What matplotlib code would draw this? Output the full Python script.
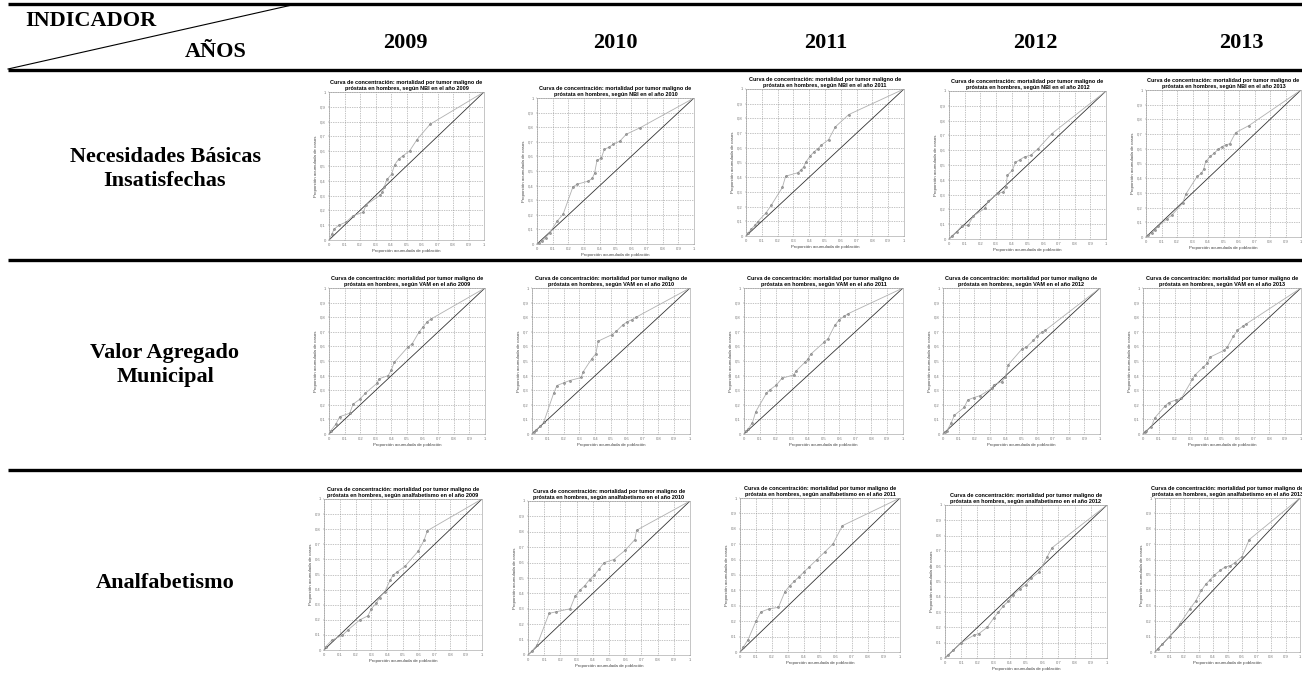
"""Table of concentration curves: prostate cancer mortality by indicator and year."""

import matplotlib
matplotlib.use("Agg")
import matplotlib.pyplot as plt

W, H = 1302, 673

YEARS = ["2009", "2010", "2011", "2012", "2013"]
INDICATORS = ["Necesidades Básicas\nInsatisfechas", "Valor Agregado\nMunicipal",
              "Analfabetismo"]
TITLE_KEYS = ["NBI", "VAM", "analfabetismo"]

# cumulative population share (x) vs cumulative share of cases (y)
NBI_2009_X = [0, 0.019, 0.032, 0.062, 0.11, 0.155, 0.22, 0.24, 0.33, 0.344, 0.355,
              0.374, 0.404, 0.424, 0.449, 0.477, 0.52, 0.568, 0.652, 1]
NBI_2009_Y = [0, 0.04, 0.072, 0.099, 0.121, 0.164, 0.187, 0.238, 0.303, 0.321, 0.355,
              0.409, 0.445, 0.51, 0.546, 0.569, 0.602, 0.679, 0.782, 1]
NBI_2010_X = [0, 0.013, 0.034, 0.055, 0.081, 0.13, 0.166, 0.229, 0.257, 0.325, 0.352,
              0.367, 0.382, 0.41, 0.429, 0.459, 0.484, 0.527, 0.569, 0.658, 1]
NBI_2010_Y = [0, 0.009, 0.018, 0.043, 0.077, 0.159, 0.203, 0.392, 0.41, 0.43, 0.449,
              0.487, 0.572, 0.59, 0.649, 0.663, 0.683, 0.704, 0.752, 0.797, 1]
NBI_2011_X = [0, 0.015, 0.032, 0.055, 0.074, 0.127, 0.16, 0.23, 0.251, 0.327, 0.348,
              0.365, 0.38, 0.407, 0.428, 0.454, 0.477, 0.523, 0.565, 0.65, 1]
NBI_2011_Y = [0, 0.023, 0.045, 0.072, 0.097, 0.158, 0.21, 0.33, 0.407, 0.43, 0.45,
              0.47, 0.505, 0.545, 0.57, 0.593, 0.618, 0.656, 0.742, 0.826, 1]
NBI_2012_X = [0, 0.021, 0.049, 0.081, 0.123, 0.155, 0.228, 0.251, 0.315, 0.347, 0.362,
              0.372, 0.404, 0.423, 0.453, 0.481, 0.521, 0.566, 0.655, 1]
NBI_2012_Y = [0, 0.022, 0.049, 0.088, 0.094, 0.155, 0.207, 0.258, 0.308, 0.319, 0.348,
              0.431, 0.465, 0.517, 0.537, 0.555, 0.566, 0.609, 0.712, 1]
NBI_2013_X = [0, 0.015, 0.036, 0.058, 0.079, 0.133, 0.165, 0.236, 0.257, 0.33, 0.358,
              0.373, 0.385, 0.415, 0.439, 0.467, 0.49, 0.514, 0.54, 0.578, 0.664, 1]
NBI_2013_Y = [0, 0.011, 0.027, 0.05, 0.072, 0.122, 0.147, 0.229, 0.292, 0.412, 0.434,
              0.464, 0.514, 0.548, 0.57, 0.597, 0.615, 0.627, 0.634, 0.71, 0.758, 1]

VAM_2009_X = [0, 0.011, 0.043, 0.069, 0.133, 0.154, 0.197, 0.233, 0.308, 0.321, 0.379,
              0.4, 0.418, 0.505, 0.533, 0.576, 0.6, 0.63, 0.653, 1]
VAM_2009_Y = [0, 0.021, 0.066, 0.119, 0.142, 0.204, 0.238, 0.279, 0.348, 0.378, 0.4,
              0.439, 0.49, 0.595, 0.618, 0.696, 0.73, 0.769, 0.787, 1]
VAM_2010_X = [0, 0.011, 0.025, 0.053, 0.074, 0.137, 0.158, 0.204, 0.238, 0.312, 0.322,
              0.379, 0.404, 0.419, 0.505, 0.533, 0.575, 0.6, 0.632, 0.657, 1]
VAM_2010_Y = [0, 0.016, 0.027, 0.055, 0.08, 0.279, 0.332, 0.352, 0.366, 0.387, 0.423,
              0.517, 0.549, 0.636, 0.68, 0.703, 0.748, 0.767, 0.783, 0.799, 1]
VAM_2011_X = [0, 0.011, 0.025, 0.053, 0.074, 0.141, 0.162, 0.204, 0.239, 0.313, 0.326,
              0.382, 0.403, 0.42, 0.504, 0.529, 0.571, 0.599, 0.628, 0.655, 1]
VAM_2011_Y = [0, 0.021, 0.032, 0.078, 0.153, 0.279, 0.302, 0.336, 0.382, 0.405, 0.43,
              0.49, 0.515, 0.547, 0.629, 0.654, 0.744, 0.783, 0.805, 0.824, 1]
VAM_2012_X = [0, 0.011, 0.025, 0.051, 0.072, 0.136, 0.157, 0.195, 0.237, 0.311, 0.322,
              0.375, 0.396, 0.417, 0.502, 0.53, 0.576, 0.597, 0.629, 0.65, 1]
VAM_2012_Y = [0, 0.016, 0.023, 0.073, 0.128, 0.183, 0.233, 0.249, 0.263, 0.313, 0.336,
              0.359, 0.389, 0.476, 0.581, 0.595, 0.641, 0.668, 0.698, 0.709, 1]
VAM_2013_X = [0, 0.011, 0.021, 0.053, 0.074, 0.142, 0.163, 0.207, 0.243, 0.313, 0.328,
              0.381, 0.406, 0.423, 0.512, 0.533, 0.571, 0.598, 0.63, 0.655, 1]
VAM_2013_Y = [0, 0.016, 0.023, 0.05, 0.11, 0.195, 0.215, 0.233, 0.245, 0.375, 0.403,
              0.458, 0.483, 0.526, 0.572, 0.595, 0.668, 0.709, 0.737, 0.755, 1]

ANALF_2009_X = [0, 0.011, 0.051, 0.116, 0.152, 0.226, 0.278, 0.3, 0.331, 0.352, 0.384,
                0.42, 0.437, 0.464, 0.511, 0.595, 0.633, 0.654, 1]
ANALF_2009_Y = [0, 0.022, 0.066, 0.097, 0.133, 0.199, 0.226, 0.274, 0.31, 0.347, 0.385,
                0.465, 0.496, 0.518, 0.553, 0.653, 0.726, 0.79, 1]
ANALF_2010_X = [0, 0.025, 0.056, 0.13, 0.17, 0.26, 0.29, 0.32, 0.35, 0.38, 0.41, 0.44,
                0.47, 0.53, 0.6, 0.66, 0.67, 1]
ANALF_2010_Y = [0, 0.026, 0.065, 0.27, 0.28, 0.30, 0.38, 0.42, 0.45, 0.49, 0.52, 0.56,
                0.60, 0.62, 0.68, 0.75, 0.81, 1]
ANALF_2011_X = [0, 0.02, 0.05, 0.1, 0.13, 0.18, 0.24, 0.28, 0.31, 0.34, 0.37, 0.4,
                0.43, 0.48, 0.53, 0.58, 0.64, 1]
ANALF_2011_Y = [0, 0.03, 0.08, 0.2, 0.26, 0.28, 0.29, 0.39, 0.43, 0.46, 0.49, 0.52,
                0.55, 0.6, 0.65, 0.7, 0.82, 1]
ANALF_2012_X = [0, 0.02, 0.05, 0.1, 0.18, 0.21, 0.26, 0.3, 0.33, 0.36, 0.39, 0.42,
                0.46, 0.5, 0.53, 0.58, 0.63, 0.66, 1]
ANALF_2012_Y = [0, 0.02, 0.05, 0.1, 0.15, 0.16, 0.2, 0.26, 0.3, 0.34, 0.37, 0.41,
                0.45, 0.48, 0.52, 0.56, 0.66, 0.72, 1]
ANALF_2013_X = [0, 0.02, 0.05, 0.1, 0.17, 0.24, 0.28, 0.32, 0.35, 0.38, 0.41, 0.45,
                0.48, 0.52, 0.55, 0.6, 0.65, 1]
ANALF_2013_Y = [0, 0.02, 0.05, 0.1, 0.18, 0.28, 0.33, 0.4, 0.44, 0.47, 0.5, 0.53,
                0.55, 0.56, 0.58, 0.62, 0.73, 1]

CURVES = [
    [(NBI_2009_X, NBI_2009_Y), (NBI_2010_X, NBI_2010_Y), (NBI_2011_X, NBI_2011_Y),
     (NBI_2012_X, NBI_2012_Y), (NBI_2013_X, NBI_2013_Y)],
    [(VAM_2009_X, VAM_2009_Y), (VAM_2010_X, VAM_2010_Y), (VAM_2011_X, VAM_2011_Y),
     (VAM_2012_X, VAM_2012_Y), (VAM_2013_X, VAM_2013_Y)],
    [(ANALF_2009_X, ANALF_2009_Y), (ANALF_2010_X, ANALF_2010_Y),
     (ANALF_2011_X, ANALF_2011_Y), (ANALF_2012_X, ANALF_2012_Y),
     (ANALF_2013_X, ANALF_2013_Y)],
]

# pixel boxes (left, top, right, bottom) of each small plot
BOXES = [
    [(329, 92, 484, 240), (537, 98, 694, 244), (746, 89, 904, 236),
     (949, 91, 1106, 239), (1146, 90, 1301, 237)],
    [(329, 288, 485, 434), (532, 288, 690, 434), (744, 288, 903, 434),
     (943, 288, 1100, 434), (1143, 288, 1301, 434)],
    [(324, 499, 482, 650), (528, 501, 690, 655), (740, 498, 900, 652),
     (945, 505, 1107, 658), (1155, 498, 1300, 652)],
]
YEAR_X = [405, 615, 826, 1035, 1241]
ROW_Y = [169, 365, 583]

SERIF = "Liberation Serif"
SANS = "Liberation Sans"

fig = plt.figure(figsize=(W / 100, H / 100), dpi=100)

# table frame in pixel coordinates
bg = fig.add_axes([0, 0, 1, 1])
bg.set_xlim(0, W)
bg.set_ylim(H, 0)
bg.axis("off")
for yy in (4, 70, 260, 470):
    bg.plot([8, W], [yy, yy], color="black", lw=2.4, solid_capstyle="butt")
bg.plot([8, 292], [69, 5], color="black", lw=0.8)
bg.text(25, 21, "INDICADOR", family=SERIF, weight="bold", fontsize=16,
        ha="left", va="center")
bg.text(185, 52, "AÑOS", family=SERIF, weight="bold", fontsize=16,
        ha="left", va="center")
for xx, yr in zip(YEAR_X, YEARS):
    bg.text(xx, 43, yr, family=SERIF, weight="bold", fontsize=16,
            ha="center", va="center")
for yy, lab in zip(ROW_Y, INDICATORS):
    bg.text(165, yy, lab, family=SERIF, weight="bold", fontsize=16,
            ha="center", va="center", linespacing=1.3)

ticks = [i / 10 for i in range(11)]
xlabels = ["0"] + [f"0.{i}" for i in range(1, 10)] + ["1"]

for r, (key, row_boxes, row_curves) in enumerate(zip(TITLE_KEYS, BOXES, CURVES)):
    sep = "." if r == 2 else ","
    ylabels = ["0"] + [f"0{sep}{i}" for i in range(1, 10)] + ["1"]
    for yr, (l, t, rr, b), (xs, ys) in zip(YEARS, row_boxes, row_curves):
        ax = fig.add_axes([l / W, 1 - b / H, (rr - l) / W, (b - t) / H])
        ax.set_xlim(0, 1)
        ax.set_ylim(0, 1)
        ax.set_xticks(ticks)
        ax.set_yticks(ticks)
        ax.set_xticklabels(xlabels, family=SANS, fontsize=3, color="#444")
        ax.set_yticklabels(ylabels, family=SANS, fontsize=3, color="#444")
        ax.tick_params(length=1, width=0.3, pad=1.2, colors="#777")
        ax.grid(True, ls=(0, (1, 1.5)), lw=0.5, color="#888")
        for s in ax.spines.values():
            s.set_color("#999")
            s.set_linewidth(0.4)
        ax.plot([0, 1], [0, 1], color="#333", lw=0.6)
        ax.plot(xs, ys, color="#b0b0b0", lw=0.6, marker="o", ms=1.5,
                mfc="#a0a0a0", mec="#666", mew=0.3, markevery=slice(1, -1))
        ax.set_xlabel("Proporción acumulada de población", family=SANS,
                      fontsize=3.2, color="#444", labelpad=1.5)
        ax.set_ylabel("Proporción acumulada de casos", family=SANS,
                      fontsize=3.2, color="#444", labelpad=1.5)
        ax.set_title("Curva de concentración: mortalidad por tumor maligno de\n"
                     f"próstata en hombres, según {key} en el año {yr}",
                     family=SANS, weight="bold", fontsize=4, pad=1.5,
                     linespacing=1.15)

fig.savefig("out.png", dpi=100)
